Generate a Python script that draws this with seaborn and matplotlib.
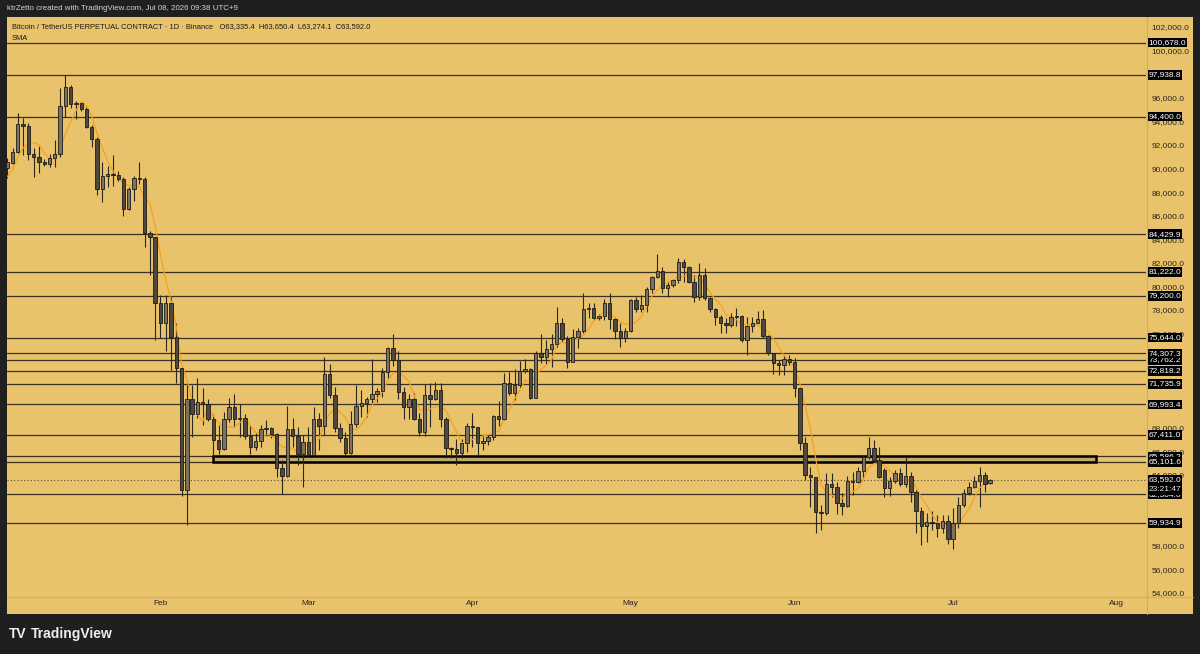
import pandas as pd
import matplotlib
matplotlib.use("Agg")
import matplotlib.pyplot as plt
import matplotlib.dates as mdates
import matplotlib.transforms as mtransforms
from matplotlib.patches import Rectangle
import seaborn as sns

# daily candles, first one is 2026-01-03
first_day = "2026-01-03"

opens = [90040, 90490, 91400, 93750, 93600, 91230, 91000, 90520, 90380, 90910,
         91200, 95300, 96890, 95470, 95580, 95020, 93540, 92470, 88280, 89360,
         89510, 89420, 89110, 86560, 88260, 89190, 89110, 84550, 84160, 78620,
         76870, 78620, 75680, 73050, 62730, 70450, 69170, 70220, 70050, 68730,
         66970, 66180, 68730, 69740, 68730, 68810, 67310, 66350, 66880, 67880,
         67960, 67480, 64570, 63920, 67880, 67310, 65780, 66830, 65700, 68730,
         68160, 72540, 70790, 67960, 67140, 65840, 68330, 69850, 70080, 70420,
         70850, 71130, 72710, 74750, 73750, 71070, 69790, 70420, 68780, 67670,
         70760, 70420, 71210, 68730, 66270, 66210, 65890, 66690, 68180, 68050,
         66740, 66860, 67200, 69000, 68730, 71830, 70930, 71630, 72850, 72970,
         70570, 74320, 74030, 74710, 75090, 76920, 75510, 73610, 75680, 76240,
         78060, 78140, 77290, 77490, 78560, 77260, 76210, 75600, 76210, 78840,
         78080, 78420, 79750, 80820, 81300, 79890, 80090, 80540, 82090, 81620,
         80370, 79120, 80960, 78990, 78060, 77380, 76870, 76700, 77430, 77490,
         75450, 76640, 76920, 77210, 75790, 74320, 73470, 73330, 73810, 73610,
         71350, 66690, 64000, 63810, 60890, 60750, 63240, 62960, 61600, 61400,
         63520, 63430, 64340, 65500, 66270, 65270, 64430, 62870, 63520, 64200,
         63240, 63920, 62580, 60970, 59670, 60040, 59900, 59480, 60100, 58550,
         59900, 61460, 62500, 63010, 63520, 64000, 63335.4]

highs = [90890, 91710, 94730, 94310, 93830, 91710, 91910, 90800, 91200, 92420,
         96800, 97940, 97080, 95750, 95600, 95240, 93690, 92700, 90570, 90210,
         91140, 89810, 89300, 88450, 89360, 90520, 89300, 84720, 84200, 79270,
         79270, 79120, 76870, 73190, 71720, 71630, 72200, 71350, 70450, 69170,
         68240, 69370, 70510, 70870, 70020, 69170, 68240, 67540, 68240, 68670,
         68100, 67590, 65270, 69850, 68810, 68100, 67390, 68100, 69770, 69230,
         73980, 73420, 71490, 68440, 67670, 69450, 71630, 71210, 70640, 73810,
         71350, 73100, 74880, 75960, 74540, 71440, 70850, 70930, 69230, 71690,
         71780, 71910, 71780, 68950, 66400, 67030, 67030, 68440, 69230, 68100,
         67310, 67450, 69090, 70280, 72680, 72760, 72990, 73700, 73810, 73050,
         74520, 75960, 75450, 75930, 78220, 77340, 75790, 76360, 76440, 79410,
         78620, 78620, 77660, 78900, 79410, 77430, 76870, 76440, 78900, 79120,
         79270, 79970, 80850, 82750, 81620, 80400, 80600, 82380, 82300, 81730,
         80960, 81960, 81530, 79120, 78140, 77570, 77290, 77720, 78140, 77550,
         77430, 77430, 77910, 78000, 75880, 74370, 73750, 74180, 74180, 73900,
         71490, 67250, 64700, 63860, 61460, 64140, 64140, 63430, 62500, 63920,
         64280, 64700, 65700, 67200, 66970, 66350, 64570, 63860, 64430, 64570,
         65550, 64280, 62730, 61310, 60800, 60970, 60610, 60610, 60610, 61230,
         62160, 62790, 63430, 63920, 64700, 64280, 63650.4]

lows = [89190, 90420, 91310, 91140, 90720, 89250, 89640, 90210, 90100, 90100,
        91000, 94390, 95100, 94200, 94900, 93460, 91800, 87750, 87180, 88450,
        88510, 88960, 85990, 86500, 87240, 88660, 83310, 80960, 75450, 75600,
        74540, 72910, 71830, 62220, 59760, 67200, 68810, 68240, 68610, 65610,
        65780, 66120, 68520, 68100, 67200, 67030, 65780, 66120, 66400, 67480,
        67110, 63860, 62390, 63860, 66400, 64850, 62960, 65550, 65550, 66120,
        67390, 70510, 67670, 66830, 65700, 65780, 68100, 68890, 68890, 70130,
        70220, 70640, 72200, 73250, 70420, 68730, 68730, 68670, 67310, 67310,
        68100, 70360, 68100, 65420, 65420, 64850, 65420, 65980, 66400, 65610,
        66120, 66550, 66970, 68160, 68670, 70790, 70360, 71350, 72680, 70420,
        70510, 73470, 73420, 73190, 74880, 75310, 73080, 73560, 74750, 76020,
        77290, 77150, 77150, 77150, 76360, 75510, 74830, 75310, 76150, 77850,
        77850, 77850, 79410, 80680, 79410, 79070, 79970, 80260, 80400, 80260,
        78700, 78840, 78840, 77850, 76720, 76020, 76020, 76530, 76640, 75310,
        74180, 76150, 76870, 75600, 74180, 72540, 72480, 72480, 73330, 70640,
        66120, 63580, 61310, 59060, 59340, 60610, 62160, 60690, 60610, 61310,
        62300, 63300, 63640, 65330, 65130, 63720, 62160, 62220, 63300, 63070,
        63010, 61740, 59060, 58060, 58340, 59340, 58770, 59110, 58150, 57700,
        59480, 61310, 62300, 62870, 61310, 62580, 63274.1]

closes = [90550, 91420, 93750, 93600, 91230, 91000, 90520, 90380, 90910, 91200,
          95300, 96890, 95470, 95580, 95020, 93540, 92470, 88280, 89360, 89510,
          89420, 89110, 86560, 88260, 89190, 89110, 84550, 84160, 78620, 76870,
          78620, 75680, 73050, 62730, 70450, 69170, 70220, 70050, 68730, 66970,
          66180, 68730, 69740, 68730, 68810, 67310, 66350, 66880, 67880, 67960,
          67480, 64570, 63920, 67880, 67310, 65780, 66830, 65700, 68730, 68160,
          72540, 70790, 67960, 67140, 65840, 68330, 69850, 70080, 70420, 70850,
          71130, 72710, 74750, 73750, 71070, 69790, 70420, 68780, 67670, 70760,
          70420, 71210, 68730, 66270, 66210, 65890, 66690, 68180, 68050, 66740,
          66860, 67200, 69000, 68730, 71830, 70930, 71630, 72850, 72970, 70570,
          74320, 74030, 74710, 75090, 76920, 75510, 73610, 75680, 76240, 78060,
          78140, 77290, 77490, 78560, 77260, 76210, 75600, 76210, 78840, 78080,
          78420, 79750, 80820, 81300, 79890, 80090, 80540, 82090, 81620, 80370,
          79120, 80960, 78990, 78060, 77380, 76870, 76700, 77430, 77490, 75450,
          76640, 76920, 77210, 75790, 74320, 73470, 73330, 73810, 73610, 71350,
          66690, 64000, 63810, 60890, 60750, 63240, 62960, 61600, 61400, 63520,
          63430, 64340, 65500, 66270, 65270, 63860, 62870, 63520, 64200, 63240,
          63920, 62580, 60970, 59670, 60040, 59900, 59480, 60100, 58550, 59900,
          61460, 62500, 63010, 63520, 64000, 63240, 63592.0]

# closes of the days before the chart starts (only feed the SMA)
warmup_closes = [88580, 88110, 89910, 89360]
sma_len = 5

# drawn horizontal levels, in drawing order (later ones cover earlier labels)
level_prices = [100678.0, 97938.8, 94400.0, 84429.9, 81222.0, 79200.0, 75644.0,
                73762.2, 74307.3, 72818.2, 71735.9, 69993.4, 67411.0,
                65586.2, 65101.6, 62364.0, 59934.9]
last_price = 63592.0
countdown = "23:21:47"

# zone box
zone_low, zone_high = 65101.6, 65586.2
zone_start, zone_end = "2026-02-11", "2026-07-28"

month_ticks = ["2026-02-01", "2026-03-01", "2026-04-01", "2026-05-01",
               "2026-06-01", "2026-07-01", "2026-08-01"]
month_labels = ["Feb", "Mar", "Apr", "May", "Jun", "Jul", "Aug"]
# scale values that are not fully hidden under a level label
price_ticks = [54000, 56000, 58000, 64000, 66000, 68000, 76000, 78000, 80000,
               82000, 84000, 86000, 88000, 90000, 92000, 94000, 96000, 100000, 102000]

header = "ktrZetto created with TradingView.com, Jul 08, 2026 09:38 UTC+9"
legend_line = ("Bitcoin / TetherUS PERPETUAL CONTRACT · 1D · Binance   "
               "O63,335.4  H63,650.4  L63,274.1  C63,592.0")

# ---- style ----
sns.set_theme(style="white")
plt.rcParams['font.family'] = ['Liberation Sans', 'DejaVu Sans']

BG = "#e8c36b"
DARK = "#1f1f1f"
W, H = 1200, 654

df = pd.DataFrame({"open": opens, "high": highs, "low": lows, "close": closes})
df["date"] = pd.date_range(first_day, periods=len(df), freq="D")
df["x"] = mdates.date2num(df["date"])
sma_all = pd.Series(warmup_closes + closes).rolling(sma_len).mean()
df["sma"] = sma_all.iloc[len(warmup_closes):].values

fig = plt.figure(figsize=(12, 6.54), dpi=100)
fig.patch.set_facecolor(DARK)

# chart panel
fig.add_artist(Rectangle((6.7 / W, 1 - 614 / H), (1193 - 6.7) / W, (614 - 17.3) / H,
                         transform=fig.transFigure, fc=BG, ec="none", zorder=0))

ax = fig.add_axes([6.7 / W, 1 - 596 / H, (1146 - 6.7) / W, (596 - 17.3) / H])
ax.set_facecolor("none")
for s in ax.spines.values():
    s.set_visible(False)

# separators of price / time scales
fig.add_artist(plt.Line2D([1146.5 / W, 1146.5 / W], [1 - 614 / H, 1 - 17.3 / H],
                          transform=fig.transFigure, color="#d3ae5c", lw=0.8))
fig.add_artist(plt.Line2D([6.7 / W, 1193 / W], [1 - 596.5 / H, 1 - 596.5 / H],
                          transform=fig.transFigure, color="#d3ae5c", lw=0.8))

# levels
for p in level_prices:
    ax.axhline(p, color="#3a3223", lw=0.9, zorder=1.5)
ax.axhline(last_price, color="#5a4c33", lw=0.8, ls=(0, (1, 2)), zorder=1.6)

# zone rectangle
x0 = mdates.date2num(pd.Timestamp(zone_start))
x1 = mdates.date2num(pd.Timestamp(zone_end))
ax.add_patch(Rectangle((x0, zone_low), x1 - x0, zone_high - zone_low,
                       fc=(0.42, 0.42, 0.45, 0.3), ec="black", lw=1.8, zorder=2))

# candles
up = df["close"] >= df["open"]
body_lo = df[["open", "close"]].min(axis=1)
body_h = (df["close"] - df["open"]).abs().clip(lower=70)
ax.vlines(df["x"], df["low"], df["high"], color="#2a2722", lw=0.8, zorder=3)
sns.lineplot(x=df["x"], y=df["sma"], ax=ax, color="#f6a11e", lw=0.9, zorder=3.5)
ax.bar(df["x"], body_h, bottom=body_lo, width=0.64,
       color=["#7b7262" if u else "#4e483e" for u in up],
       edgecolor="#1d1b18", linewidth=0.6, zorder=4)

ax.set_xlim(df["x"].iloc[0] - 0.1, df["x"].iloc[0] + 215.5)
ax.set_ylim(53737, 102823)
ax.set_xlabel("")
ax.set_ylabel("")

# axes ticks
ax.yaxis.tick_right()
ax.set_yticks(price_ticks)
ax.set_yticklabels([f"{t:,.1f}" for t in price_ticks])
ax.tick_params(axis="y", length=0, pad=4.0, labelsize=6, labelcolor="#2a2620")
ax.set_xticks(mdates.date2num(pd.to_datetime(month_ticks)))
ax.set_xticklabels(month_labels)
ax.tick_params(axis="x", length=0, pad=3.0, labelsize=6, labelcolor="#2a2620")
ax.grid(False)

# price labels on the scale
blend = mtransforms.blended_transform_factory(ax.transAxes, ax.transData)
box = dict(boxstyle="square,pad=0.15", fc="black", ec="none")
lx = 1.0 + 2.2 / (1146 - 6.7)
for i, p in enumerate(level_prices):
    ax.text(lx, p, f"{p:,.1f}", transform=blend, ha="left", va="center",
            fontsize=6, color="white", bbox=box, zorder=10 + i, clip_on=False)
ax.text(lx, last_price, f"{last_price:,.1f}", transform=blend, ha="left", va="center",
        fontsize=6, color="white", bbox=box, zorder=40, clip_on=False)
off = mtransforms.ScaledTranslation(0, -0.1, fig.dpi_scale_trans)
ax.text(lx, last_price, countdown, transform=blend + off, ha="left", va="center",
        fontsize=6, color="#e6e6e6", bbox=box, zorder=41, clip_on=False)

# texts
fig.text(7 / W, 1 - 9 / H, header, fontsize=5.7, color="#d1d4dc", va="center")
fig.text(11.5 / W, 1 - 27 / H, legend_line, fontsize=5.45, color="#1c1a16", va="center")
fig.text(11.5 / W, 1 - 38 / H, "SMA", fontsize=5.45, color="#1c1a16", va="center")
fig.text(9 / W, 1 - 634 / H, "TV", fontsize=10, fontweight="bold", color="#eeeeee",
         va="center")
fig.text(31 / W, 1 - 634 / H, "TradingView", fontsize=10, fontweight="bold",
         color="#eeeeee", va="center")

fig.savefig("out.png", dpi=100, facecolor=fig.get_facecolor())
